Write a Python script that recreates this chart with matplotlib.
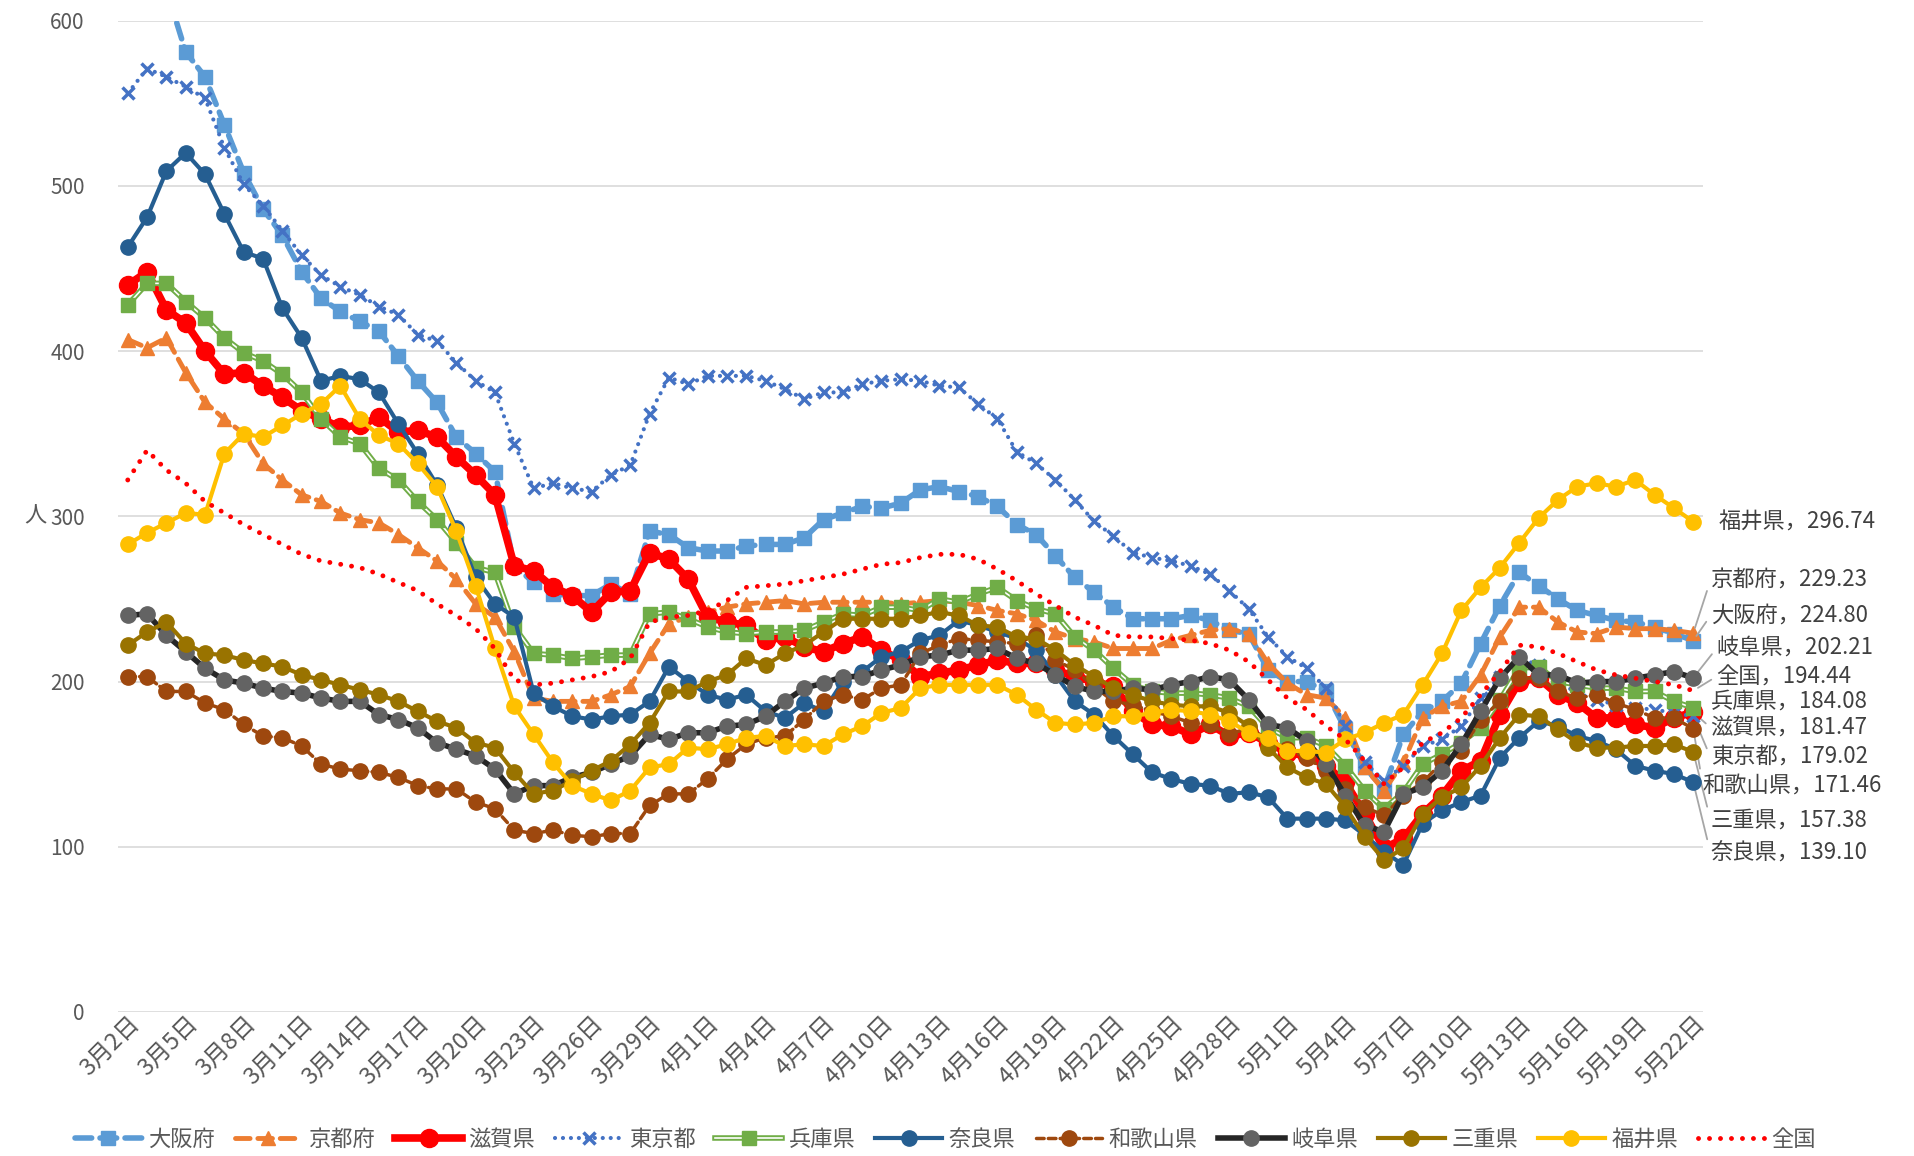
import numpy as np
import pandas as pd
import matplotlib
matplotlib.use('Agg')
import matplotlib.pyplot as plt
import matplotlib.transforms as mtransforms
from matplotlib.lines import Line2D
from matplotlib.legend_handler import HandlerTuple

plt.rcParams['font.family'] = ['Noto Sans CJK JP', 'DejaVu Sans']

# 日付(カテゴリ)
dates = pd.date_range('2020-03-02', '2020-05-22')
date_labels = [f'{d.month}月{d.day}日' for d in dates]

# 各府県の値(人)
osaka = [640, 632, 619, 581, 566, 537, 508, 486, 470, 448,
         432, 424, 418, 412, 397, 382, 369, 348, 338, 327,
         270, 260, 253, 252, 252, 259, 253, 291, 289, 281,
         279, 279, 282, 283, 283, 287, 298, 302, 306, 305,
         308, 316, 318, 315, 312, 306, 295, 289, 276, 263,
         254, 245, 238, 238, 238, 240, 237, 231, 229, 207,
         200, 200, 194, 171, 148, 135, 168, 182, 188, 199,
         223, 246, 266, 258, 250, 243, 240, 237, 236, 233,
         229, 224.80]
kyoto = [407, 402, 408, 387, 369, 359, 350, 332, 322, 313,
         309, 302, 298, 296, 289, 281, 273, 262, 247, 239,
         218, 190, 188, 188, 188, 192, 197, 217, 235, 239,
         242, 245, 247, 248, 249, 247, 248, 248, 248, 248,
         247, 248, 249, 248, 246, 243, 241, 237, 230, 226,
         224, 220, 220, 220, 225, 228, 231, 232, 229, 211,
         199, 192, 190, 178, 148, 134, 151, 178, 185, 188,
         204, 227, 245, 245, 236, 230, 229, 233, 232, 232,
         231, 229.23]
shiga = [440, 448, 425, 417, 400, 386, 387, 379, 372, 364,
         359, 354, 355, 360, 351, 352, 348, 336, 325, 313,
         270, 267, 257, 252, 242, 254, 255, 278, 274, 262,
         239, 236, 234, 225, 227, 221, 218, 223, 227, 219,
         213, 203, 205, 207, 210, 213, 211, 211, 207, 203,
         200, 197, 182, 174, 173, 168, 174, 167, 169, 163,
         157, 155, 149, 139, 120, 99, 105, 120, 131, 146,
         152, 180, 200, 202, 192, 187, 178, 178, 174, 172,
         178, 181.47]
tokyo = [556, 571, 566, 560, 553, 523, 501, 488, 473, 458,
         446, 439, 434, 427, 422, 410, 406, 393, 382, 375,
         344, 317, 320, 317, 315, 325, 331, 362, 384, 380,
         385, 385, 385, 382, 377, 371, 375, 375, 380, 382,
         383, 382, 379, 378, 368, 359, 339, 332, 322, 310,
         297, 288, 278, 275, 273, 270, 265, 255, 244, 227,
         215, 208, 196, 173, 151, 140, 149, 161, 165, 173,
         190, 203, 214, 210, 200, 193, 189, 186, 184, 183,
         181, 179.02]
hyogo = [428, 441, 441, 430, 420, 408, 399, 394, 386, 375,
         359, 348, 344, 329, 322, 309, 298, 284, 269, 266,
         233, 217, 216, 214, 215, 216, 216, 241, 242, 238,
         233, 230, 229, 230, 230, 231, 236, 241, 240, 245,
         245, 243, 250, 248, 253, 257, 249, 244, 241, 227,
         219, 208, 198, 194, 193, 193, 192, 190, 185, 172,
         166, 166, 161, 149, 134, 123, 133, 150, 156, 163,
         172, 189, 208, 209, 200, 198, 196, 196, 194, 194,
         188, 184.08]
nara = [463, 481, 509, 520, 507, 483, 460, 456, 426, 408,
        382, 385, 383, 375, 356, 338, 319, 293, 263, 247,
        239, 193, 185, 179, 177, 179, 180, 188, 209, 200,
        192, 189, 192, 182, 178, 187, 182, 200, 206, 215,
        218, 225, 228, 237, 234, 230, 226, 219, 204, 188,
        180, 167, 156, 145, 141, 138, 137, 132, 133, 130,
        117, 117, 117, 116, 107, 97, 89, 114, 122, 127,
        131, 154, 166, 176, 173, 167, 164, 159, 149, 146,
        144, 139.10]
wakayama = [203, 203, 194, 194, 187, 183, 174, 167, 166, 161,
            150, 147, 146, 145, 142, 137, 135, 135, 127, 123,
            110, 108, 110, 107, 106, 108, 108, 125, 132, 132,
            141, 153, 162, 166, 167, 177, 188, 192, 189, 196,
            198, 217, 222, 226, 225, 224, 223, 228, 213, 207,
            197, 188, 186, 182, 179, 175, 174, 168, 172, 165,
            159, 154, 146, 135, 124, 119, 131, 139, 151, 158,
            177, 188, 202, 202, 194, 190, 192, 187, 183, 178,
            178, 171.46]
gifu = [240, 241, 228, 218, 208, 201, 199, 196, 194, 193,
        190, 188, 188, 180, 177, 172, 163, 159, 155, 147,
        132, 137, 137, 142, 145, 150, 155, 168, 165, 169,
        169, 173, 174, 179, 188, 196, 199, 203, 203, 207,
        210, 215, 216, 219, 219, 220, 214, 211, 204, 197,
        194, 194, 196, 195, 198, 200, 203, 201, 189, 174,
        172, 164, 150, 131, 113, 109, 132, 136, 146, 162,
        182, 202, 215, 204, 204, 199, 200, 200, 202, 204,
        206, 202.21]
mie = [222, 230, 236, 223, 217, 216, 213, 211, 209, 204,
       201, 198, 195, 192, 188, 182, 176, 172, 163, 160,
       145, 132, 134, 140, 146, 152, 162, 175, 194, 194,
       200, 204, 214, 210, 217, 222, 230, 238, 238, 238,
       238, 240, 242, 240, 234, 233, 227, 226, 219, 210,
       203, 196, 192, 188, 186, 185, 185, 181, 173, 160,
       148, 142, 138, 124, 106, 92, 99, 120, 130, 136,
       149, 166, 180, 179, 171, 163, 160, 160, 161, 161,
       162, 157.38]
fukui = [283, 290, 296, 302, 301, 338, 350, 348, 355, 362,
         368, 379, 359, 349, 344, 332, 318, 291, 258, 220,
         185, 168, 151, 137, 132, 128, 134, 148, 150, 160,
         159, 162, 166, 167, 161, 162, 161, 168, 173, 181,
         184, 196, 198, 198, 198, 198, 192, 183, 175, 174,
         175, 179, 179, 181, 183, 182, 180, 176, 169, 166,
         158, 158, 157, 165, 169, 175, 180, 198, 217, 243,
         257, 269, 284, 299, 310, 318, 320, 318, 322, 313,
         305, 296.74]
zenkoku = [322, 340, 328, 320, 309, 302, 295, 289, 283, 277,
           273, 271, 269, 265, 260, 255, 247, 240, 232, 220,
           201, 198, 199, 201, 203, 206, 214, 236, 239, 240,
           243, 249, 257, 258, 259, 261, 263, 265, 268, 271,
           272, 275, 277, 277, 274, 268, 261, 253, 246, 239,
           234, 228, 227, 227, 226, 225, 223, 219, 212, 201,
           190, 183, 173, 165, 152, 138, 148, 163, 169, 178,
           192, 206, 222, 221, 217, 212, 207, 204, 202, 200,
           198, 194.44]

names = ['大阪府', '京都府', '滋賀県', '東京都', '兵庫県', '奈良県',
         '和歌山県', '岐阜県', '三重県', '福井県', '全国']
series = [osaka, kyoto, shiga, tokyo, hyogo, nara,
          wakayama, gifu, mie, fukui, zenkoku]

# 系列ごとの見た目
styles = {
    '大阪府': dict(color='#5B9BD5', lw=4, ls=(0, (3.0, 1.5)), marker='s', ms=10),
    '京都府': dict(color='#ED7D31', lw=3.5, ls=(0, (3.0, 1.6)), marker='^', ms=10),
    '滋賀県': dict(color='#FF0000', lw=5.5, ls='-', marker='o', ms=13),
    '東京都': dict(color='#4472C4', lw=3, ls=(0, (0.01, 1.9)), marker='x', ms=9, mew=2.5),
    '兵庫県': dict(color='#70AD47', lw=4, ls='-', marker='s', ms=10),
    '奈良県': dict(color='#255E91', lw=3, ls='-', marker='o', ms=11),
    '和歌山県': dict(color='#9E480E', lw=2.5, ls=(0, (2.2, 1.2)), marker='o', ms=11),
    '岐阜県': dict(color='#262626', lw=4, ls='-', marker='o', ms=11, mfc='#636363', mec='#636363'),
    '三重県': dict(color='#997300', lw=3, ls='-', marker='o', ms=11),
    '福井県': dict(color='#FFC000', lw=3, ls='-', marker='o', ms=11),
    '全国': dict(color='#FF0000', lw=3.5, ls=(0, (0.01, 2.25)), marker=None, ms=0),
}

x = np.arange(len(dates))

fig = plt.figure(figsize=(19.14, 11.56), dpi=100)
ax = fig.add_axes([0.0617, 0.1246, 0.8280, 0.8575])

handles = []
for i, (name, vals) in enumerate(zip(names, series)):
    s = styles[name]
    z = 2 + i
    mfc = s.get('mfc', s['color'])
    mec = s.get('mec', s['color'])
    if name == '兵庫県':
        # 二重線
        ax.plot(x, vals, color=s['color'], lw=s['lw'], zorder=z)
        ax.plot(x, vals, color='white', lw=1.2, zorder=z)
        ax.plot(x, vals, ls='none', marker='s', ms=s['ms'], color=s['color'], zorder=z)
        h = (Line2D([], [], color=s['color'], lw=s['lw']),
             Line2D([], [], color='white', lw=1.2),
             Line2D([], [], ls='none', marker='s', ms=s['ms'], color=s['color']))
    else:
        line, = ax.plot(x, vals, color=s['color'], lw=s['lw'], ls=s['ls'],
                        marker=s['marker'], ms=s['ms'], mfc=mfc, mec=mec,
                        mew=s.get('mew', 1), dash_capstyle='round', zorder=z)
        h = line
    handles.append(h)

ax.set_xlim(-0.5, 81.5)
ax.set_ylim(0, 600)
ax.set_yticks(range(0, 601, 100))
ax.grid(axis='y', color='#D9D9D9', lw=1.2)
ax.set_axisbelow(True)
for sp in ax.spines.values():
    sp.set_visible(False)
ax.tick_params(axis='both', length=0, colors='#595959', labelsize=15)
ax.tick_params(axis='y', pad=24)

tick_pos = list(range(0, len(dates), 3))
ax.set_xticks(tick_pos)
ax.set_xticklabels([date_labels[i] for i in tick_pos], rotation=45,
                   ha='right', va='top', rotation_mode='anchor', fontsize=17)
offset = mtransforms.ScaledTranslation(-0.01, -0.26, fig.dpi_scale_trans)
for lab in ax.get_xticklabels():
    lab.set_transform(lab.get_transform() + offset)
ax.tick_params(axis='x', pad=0)

fig.text(0.0125, 0.5536, '人', fontsize=16, color='#595959', va='center')

# 右端のデータラベル
label_order = ['福井県', '京都府', '大阪府', '岐阜県', '全国', '兵庫県',
               '滋賀県', '東京都', '和歌山県', '三重県', '奈良県']
label_y = [296.3, 261.6, 240, 220, 203, 188, 172, 154, 137, 116, 96]
label_x = [82.3, 81.9, 81.9, 82.2, 82.2, 81.9, 81.9, 81.9, 81.5, 81.9, 81.9]
for name, ly, lx in zip(label_order, label_y, label_x):
    v = series[names.index(name)][-1]
    txt = f'{name}，{v:.2f}'
    if abs(ly - v) > 6:
        ax.annotate(txt, xy=(81, v), xytext=(lx, ly), textcoords='data',
                    ha='left', va='center', fontsize=16, color='#404040',
                    annotation_clip=False,
                    arrowprops=dict(arrowstyle='-', color='#A6A6A6', lw=1.3,
                                    shrinkA=2, shrinkB=4, relpos=(0, 0.5)))
    else:
        ax.text(lx, ly, txt, ha='left', va='center', fontsize=16,
                color='#404040', clip_on=False)

fig.legend(handles, names, loc='center', bbox_to_anchor=(0.494, 0.0147),
           ncol=11, frameon=False, fontsize=16, handlelength=3.0,
           handletextpad=0.3, columnspacing=0.9, labelcolor='#595959',
           handler_map={tuple: HandlerTuple(ndivide=1)})

fig.savefig('out.png', dpi=100)
